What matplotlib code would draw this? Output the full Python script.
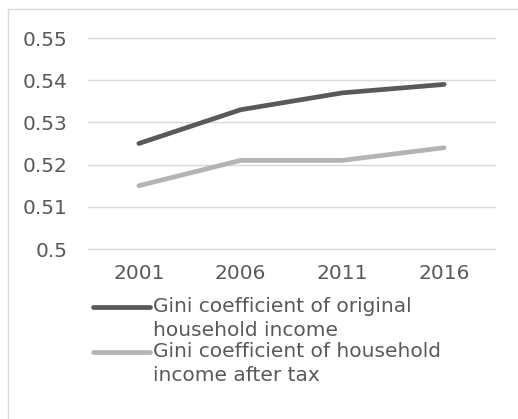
import matplotlib
matplotlib.use("Agg")
import matplotlib.pyplot as plt
from matplotlib.lines import Line2D

# data
years = ["2001", "2006", "2011", "2016"]
gini_original = [0.525, 0.533, 0.537, 0.539]
gini_after_tax = [0.515, 0.521, 0.521, 0.524]
series_labels = ["Gini coefficient of original\nhousehold income",
                 "Gini coefficient of household\nincome after tax"]
series_colors = ["#595959", "#b4b4b4"]
yticks = [0.5, 0.51, 0.52, 0.53, 0.54, 0.55]
ytick_labels = ["0.5", "0.51", "0.52", "0.53", "0.54", "0.55"]

plt.rcParams['font.family'] = ['DejaVu Sans']
text_col = "#595959"

fig = plt.figure(figsize=(5.18, 4.19), dpi=100)
ax = fig.add_axes([88 / 518, 1 - 249 / 419, (495 - 88) / 518, (249 - 38) / 419])

x = range(len(years))
for vals, col in zip([gini_original, gini_after_tax], series_colors):
    ax.plot(x, vals, color=col, lw=3.4, solid_capstyle='round', zorder=3)

ax.set_xlim(-0.5, len(years) - 0.5)
ax.set_ylim(0.5, 0.55)
ax.set_yticks(yticks)
ax.set_yticklabels(ytick_labels)
ax.set_xticks(list(x))
ax.set_xticklabels(years)
ax.tick_params(length=0, labelsize=14.5, colors=text_col)
ax.tick_params(axis='y', pad=15)
ax.tick_params(axis='x', pad=11)
ax.grid(axis='y', color='#d9d9d9', lw=1)
for gl in ax.yaxis.get_gridlines():
    gl.set_clip_on(False)
ax.set_axisbelow(True)
for s in ax.spines.values():
    s.set_visible(False)

# legend, handle level with the first line of each label
leg_y = [1 - 307 / 419, 1 - 352 / 419]
for lab, col, yy in zip(series_labels, series_colors, leg_y):
    fig.add_artist(Line2D([93 / 518, 150 / 518], [yy, yy], color=col, lw=3.4,
                          solid_capstyle='round', transform=fig.transFigure))
    fig.text(153 / 518, yy + 10 / 419, lab, fontsize=14.5, color=text_col,
             va='top', ha='left', linespacing=1.35)

# thin frame on top and left
fig.add_artist(Line2D([7.5 / 518, 7.5 / 518], [0, 1 - 9.5 / 419], color='#d9d9d9', lw=1,
                      transform=fig.transFigure))
fig.add_artist(Line2D([7.5 / 518, 1], [1 - 9.5 / 419, 1 - 9.5 / 419], color='#d9d9d9', lw=1,
                      transform=fig.transFigure))

fig.savefig("out.png", dpi=100)
